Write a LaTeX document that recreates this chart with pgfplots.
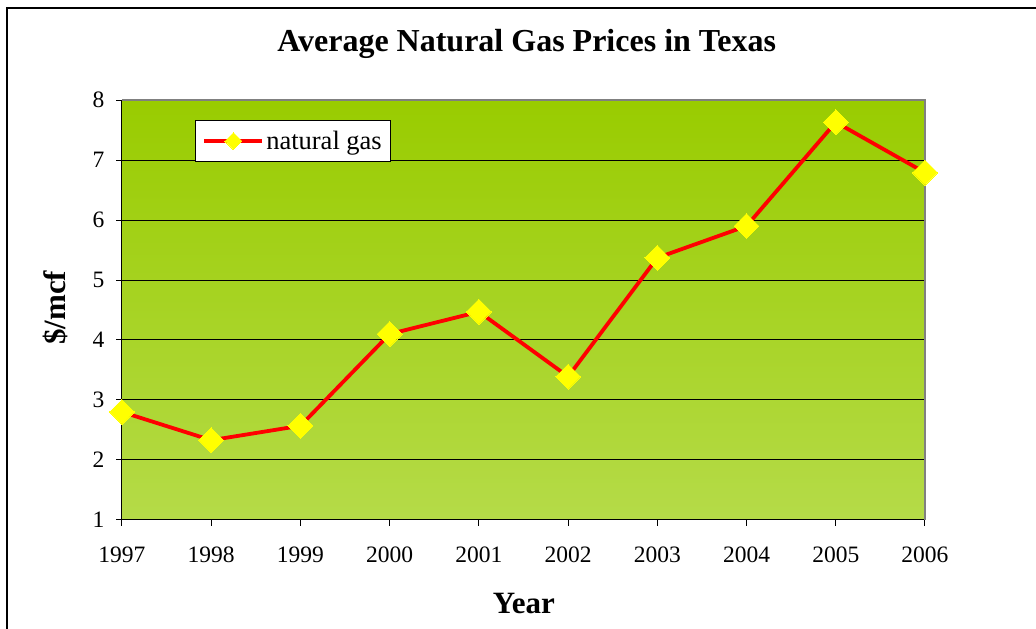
\documentclass[border=0pt]{standalone}
\usepackage{pgfplots}
\pgfplotsset{compat=1.18}
\usepackage{fontspec}
\setmainfont{Liberation Serif}
\definecolor{topgreen}{RGB}{153,204,0}
\definecolor{botgreen}{RGB}{181,219,72}
\definecolor{ptline}{RGB}{255,0,0}
\definecolor{ptmark}{RGB}{255,255,0}
\begin{document}
\begin{tikzpicture}
\useasboundingbox (0,0) rectangle (1036pt,629pt);
\draw[line width=1.5pt] (7pt,0pt) -- (7pt,621pt) -- (1036pt,621pt);
\begin{axis}[
  at={(122pt,109pt)}, anchor=south west,
  scale only axis, width=803pt, height=420pt,
  xmin=1997, xmax=2006, ymin=1, ymax=8,
  xtick={1997,1998,...,2006}, ytick={1,2,...,8},
  /pgf/number format/1000 sep={},
  /pgf/number format/assume math mode=true,
  ticklabel style={font=\fontsize{23.5}{26}\selectfont},
  xticklabel shift=17pt, yticklabel shift=8pt,
  axis lines*=left, axis line style={-, black, line width=1pt},
  tick align=outside, major tick length=6pt, tick style={black, line width=1pt},
  ymajorgrids, major grid style={black, line width=1pt},
  axis background/.style={top color=topgreen, bottom color=botgreen},
  clip=false,
  title={Average Natural Gas Prices in Texas},
  title style={font=\bfseries\fontsize{32}{36}\selectfont, at={(axis description cs:0.504,1.119)}, anchor=center},
  xlabel={Year},
  xlabel style={font=\bfseries\fontsize{31}{36}\selectfont, at={(axis description cs:0.5006,-0.198)}, anchor=center},
  ylabel={\$/mcf},
  ylabel style={font=\bfseries\fontsize{31}{36}\selectfont, at={(axis description cs:-0.0834,0.505)}, anchor=center},
  legend style={at={(axis description cs:0.0909,0.952)}, anchor=north west, draw=black, line width=1pt, fill=white, font=\fontsize{26.5}{30}\selectfont, inner xsep=7pt, inner ysep=8.5pt},
  legend image code/.code={\draw[mark repeat=2, mark phase=2, #1, mark size=6pt] plot coordinates {(0pt,0pt) (29pt,0pt) (58pt,0pt)};},
]
\addplot[ptline, line width=3.8pt, mark=square*, mark size=8.8pt,
  mark options={rotate=45, fill=ptmark, draw=ptmark, line width=0pt}]
  coordinates {
  (1997,2.80) (1998,2.33) (1999,2.57) (2000,4.10) (2001,4.47)
  (2002,3.39) (2003,5.37) (2004,5.90) (2005,7.63) (2006,6.79)};
\addlegendentry{natural gas}
\draw[gray, line width=1.5pt] (rel axis cs:0,1) -- (rel axis cs:1,1) -- (rel axis cs:1,0);
\end{axis}
\end{tikzpicture}
\end{document}
